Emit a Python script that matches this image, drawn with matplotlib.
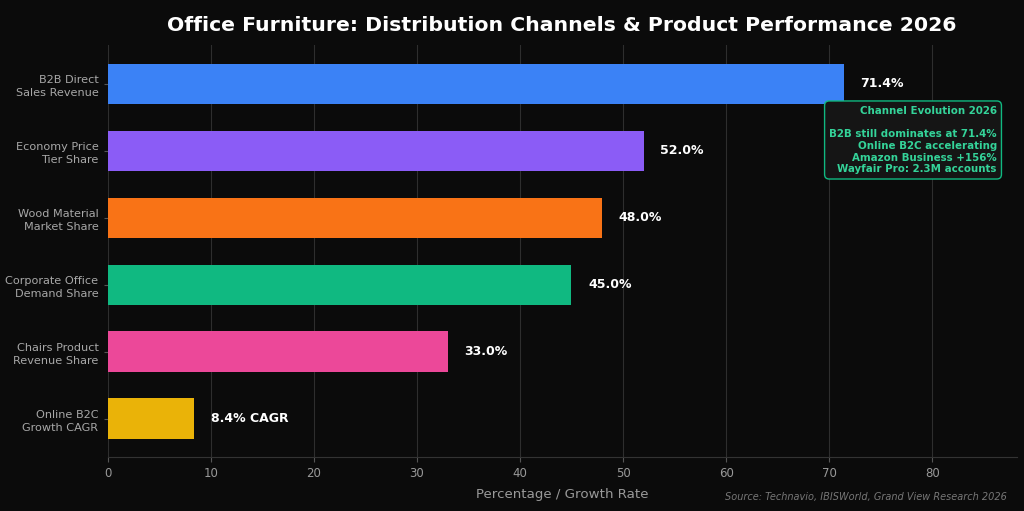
import matplotlib.pyplot as plt
import numpy as np

# Data
categories = ['B2B Direct\nSales Revenue', 'Economy Price\nTier Share', 'Wood Material\nMarket Share',
              'Corporate Office\nDemand Share', 'Chairs Product\nRevenue Share', 'Online B2C\nGrowth CAGR']
values = [71.4, 52.0, 48.0, 45.0, 33.0, 8.4]
value_labels = ['71.4%', '52.0%', '48.0%', '45.0%', '33.0%', '8.4% CAGR']
colors = ['#3B82F6', '#8B5CF6', '#F97316', '#10B981', '#EC4899', '#EAB308']

bg = '#0b0b0b'
fig, ax = plt.subplots(figsize=(10.24, 5.11), dpi=100)
fig.patch.set_facecolor(bg)
ax.set_facecolor(bg)

y = np.arange(len(categories))
ax.barh(y, values, height=0.6, color=colors, zorder=3)
ax.invert_yaxis()
ax.set_yticks(y)
ax.tick_params(axis='x', colors='#555555', labelcolor='#999999', labelsize=8.5)
ax.tick_params(axis='y', colors='#555555', labelcolor='#a8a8a8', length=3)
ax.set_yticklabels(categories, fontsize=8.1, linespacing=1.45)

for yi, v, lab in zip(y, values, value_labels):
    ax.text(v + 1.6, yi, lab, va='center', ha='left', color='white',
            fontsize=9, fontweight='bold', zorder=4)

ax.set_xlim(0, 88.2)
ax.set_xticks(np.arange(0, 90, 10))
ax.grid(True, axis='x', color='#2e2e2e', linewidth=0.8, zorder=0)

for s in ['top', 'right', 'left']:
    ax.spines[s].set_visible(False)
ax.spines['bottom'].set_color('#333333')

ax.set_xlabel('Percentage / Growth Rate', color='#999999', fontsize=9.6, labelpad=6)
ax.set_title('Office Furniture: Distribution Channels & Product Performance 2026',
             color='white', fontsize=14.7, fontweight='bold', pad=10)

note = ('Channel Evolution 2026\n\nB2B still dominates at 71.4%\nOnline B2C accelerating\n'
        'Amazon Business +156%\nWayfair Pro: 2.3M accounts')
ax.text(0.978, 0.853, note, transform=ax.transAxes, ha='right', va='top', multialignment='right',
        color='#34D399', fontsize=7.4, fontweight='bold', linespacing=1.22, zorder=5,
        bbox=dict(boxstyle='round,pad=0.45', facecolor='#151515', edgecolor='#10B981', linewidth=1))

fig.text(0.983, 0.018, 'Source: Technavio, IBISWorld, Grand View Research 2026', ha='right', va='bottom',
         color='#777777', fontsize=7, style='italic')

plt.subplots_adjust(left=0.105, right=0.993, top=0.912, bottom=0.105)
plt.savefig('out.png', dpi=100, facecolor=bg)
